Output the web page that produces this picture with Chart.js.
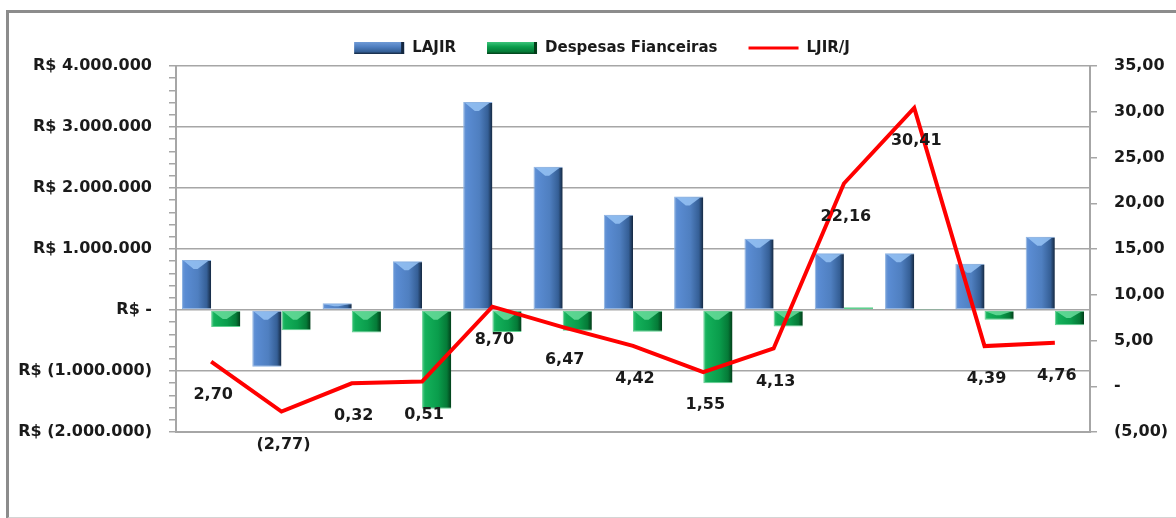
<!DOCTYPE html>
<html>
<head>
<meta charset="utf-8">
<script src="https://cdn.jsdelivr.net/npm/chart.js@4/dist/chart.umd.min.js"></script>
<style>
  body { margin: 0; background: #fff; }
  #frame {
    position: absolute; left: 6px; top: 10px; width: 1167px; height: 504px;
    border-left: 3px solid #8c8c8c; border-top: 3px solid #8c8c8c;
    border-right: 2px solid #d4d4d4; border-bottom: 2px solid #d4d4d4;
  }
  #chart { position: absolute; left: 0; top: 0; }
</style>
</head>
<body>
<div id="frame"></div>
<canvas id="chart" width="1176" height="518"></canvas>
<script>
// dados
var periodos = ['1', '2', '3', '4', '5', '6', '7', '8', '9', '10', '11', '12', '13'];
var lajir = [820000, -930000, 110000, 800000, 3410000, 2350000, 1560000, 1860000, 1170000, 930000, 930000, 760000, 1200000];
var despesas = [-280000, -330000, -370000, -1620000, -360000, -340000, -355000, -1200000, -270000, 45000, 5000, -160000, -250000];
var ljirj = [2.70, -2.77, 0.32, 0.51, 8.70, 6.47, 4.42, 1.55, 4.13, 22.16, 30.41, 4.39, 4.76];

var FONT = 'DejaVu Sans';
var GRID = '#a6a6a6';

function milhar(n) {
    return String(Math.round(Math.abs(n))).replace(/\B(?=(\d{3})+(?!\d))/g, '.');
}
function reais(v) {
    if (Math.abs(v) < 1) return 'R$ -';
    if (v < 0) return 'R$ (' + milhar(v) + ')';
    return 'R$ ' + milhar(v);
}
function decimal(v) {
    if (Math.abs(v) < 0.0001) return '-';
    var s = Math.abs(v).toFixed(2).replace('.', ',');
    return v < 0 ? '(' + s + ')' : s;
}

function gradiente(ctx, x0, x1, stops) {
    var g = ctx.createLinearGradient(x0, 0, x1, 0);
    stops.forEach(function (s) { g.addColorStop(s[0], s[1]); });
    return g;
}
var azul = [[0, '#6f9ad6'], [0.12, '#5a8cd3'], [0.55, '#4f7fc0'], [0.85, '#355f96'], [1, '#14273f']];
var verde = [[0, '#3cc47a'], [0.12, '#13b05a'], [0.55, '#0a9d4c'], [0.85, '#057a37'], [1, '#023d19']];
var brilho = ['rgba(150,195,245,0.85)', 'rgba(110,225,160,0.8)'];

// barras com efeito de relevo
var relevo = {
    id: 'relevo',
    beforeDatasetsDraw: function (chart) {
        var ctx = chart.ctx;
        [0, 1].forEach(function (di) {
            var meta = chart.getDatasetMeta(di + 1);
            meta.data.forEach(function (bar) {
                var x0 = bar.x - bar.width / 2, x1 = bar.x + bar.width / 2;
                bar.options.backgroundColor = gradiente(ctx, x0, x1, di === 0 ? azul : verde);
            });
        });
    },
    afterDatasetDraw: function (chart, args) {
        if (args.index === 0) return;
        var ctx = chart.ctx;
        ctx.save();
        ctx.fillStyle = brilho[args.index - 1];
        args.meta.data.forEach(function (bar) {
            var topo = Math.min(bar.y, bar.base);
            var h = Math.abs(bar.base - bar.y);
            if (h < 4) return;
            var d = Math.min(9, h / 2);
            var x0 = bar.x - bar.width / 2, x1 = bar.x + bar.width / 2;
            ctx.beginPath();
            ctx.moveTo(x0 + 2, topo + 1);
            ctx.lineTo(x1 - 3, topo + 1);
            ctx.lineTo(bar.x + 1, topo + d);
            ctx.lineTo(bar.x - 3, topo + d);
            ctx.closePath();
            ctx.fill();
        });
        ctx.restore();
    }
};

// rótulos da linha
var rotulos = {
    id: 'rotulos',
    afterDatasetsDraw: function (chart) {
        var ctx = chart.ctx;
        var meta = chart.getDatasetMeta(0);
        ctx.save();
        ctx.font = 'bold 16px ' + FONT;
        ctx.fillStyle = '#1a1a1a';
        ctx.textAlign = 'center';
        ctx.textBaseline = 'middle';
        meta.data.forEach(function (pt, i) {
            ctx.fillText(decimal(ljirj[i]), pt.x + 2, pt.y + 33);
        });
        ctx.restore();
    }
};

// legenda no topo
var legenda = {
    id: 'legenda',
    afterDraw: function (chart) {
        var ctx = chart.ctx;
        ctx.save();
        ctx.font = 'bold 15px ' + FONT;
        ctx.textBaseline = 'middle';
        var itens = [
            { txt: 'LAJIR', tipo: 'barra', cor: azul },
            { txt: 'Despesas Fianceiras', tipo: 'barra', cor: verde },
            { txt: 'LJIR/J', tipo: 'linha' }
        ];
        var caixa = 50, gap = 8, entre = 31, y = 48;
        var total = 0;
        itens.forEach(function (it, i) {
            it.w = ctx.measureText(it.txt).width;
            total += caixa + gap + it.w + (i ? entre : 0);
        });
        var x = 602 - total / 2;
        itens.forEach(function (it) {
            if (it.tipo === 'barra') {
                var g = ctx.createLinearGradient(0, y - 6, 0, y + 6);
                g.addColorStop(0, it.cor[0][1]);
                g.addColorStop(0.4, it.cor[2][1]);
                g.addColorStop(0.8, it.cor[3][1]);
                g.addColorStop(1, it.cor[4][1]);
                ctx.fillStyle = g;
                ctx.fillRect(x, y - 6, caixa, 12);
                ctx.fillStyle = it.cor[4][1];
                ctx.fillRect(x + caixa - 3, y - 6, 3, 12);
            } else {
                ctx.strokeStyle = '#ff0000';
                ctx.lineWidth = 3;
                ctx.beginPath();
                ctx.moveTo(x, y);
                ctx.lineTo(x + caixa, y);
                ctx.stroke();
            }
            ctx.fillStyle = '#1a1a1a';
            ctx.fillText(it.txt, x + caixa + gap, y);
            x += caixa + gap + it.w + entre;
        });
        ctx.restore();
    }
};

var ctx = document.getElementById('chart').getContext('2d');
var grafico = new Chart(ctx, {
    type: 'bar',
    data: {
        labels: periodos,
        datasets: [{
            type: 'line',
            label: 'LJIR/J',
            data: ljirj,
            yAxisID: 'y2',
            borderColor: '#ff0000',
            borderWidth: 4,
            pointRadius: 0,
            tension: 0,
            fill: false,
            order: 0
        }, {
            label: 'LAJIR',
            data: lajir,
            yAxisID: 'y',
            backgroundColor: function () { return '#4f81bd'; },
            borderColor: '#8db3e2',
            borderWidth: { left: 1, top: 1, right: 0, bottom: 1 },
            borderSkipped: false,
            order: 1
        }, {
            label: 'Despesas Fianceiras',
            data: despesas,
            yAxisID: 'y',
            backgroundColor: function () { return '#00a050'; },
            borderColor: '#5fd08f',
            borderWidth: { left: 1, top: 1, right: 0, bottom: 1 },
            borderSkipped: false,
            order: 1
        }]
    },
    options: {
        responsive: false,
        animation: false,
        layout: { padding: { top: 66, bottom: 86, left: 0, right: 0 } },
        plugins: {
            legend: { display: false },
            tooltip: { enabled: false }
        },
        datasets: {
            bar: { categoryPercentage: 0.83, barPercentage: 1.0 }
        },
        scales: {
            x: {
                grid: { display: false },
                ticks: { display: false },
                border: { display: true, color: GRID, width: 2 },
                afterFit: function (s) { s.height = 0; }
            },
            y: {
                position: 'left',
                min: -2000000,
                max: 4000000,
                ticks: {
                    stepSize: 200000,
                    autoSkip: false,
                    padding: 17,
                    color: '#1a1a1a',
                    font: { family: FONT, size: 16, weight: 'bold' },
                    callback: function (v) {
                        return Math.abs(v % 1000000) < 1 ? reais(v) : '';
                    }
                },
                grid: {
                    tickLength: 7,
                    lineWidth: 1.5,
                    tickColor: GRID,
                    color: function (c) {
                        return c.tick && Math.abs(c.tick.value % 1000000) < 1 ? GRID : 'rgba(0,0,0,0)';
                    }
                },
                border: { display: true, color: GRID, width: 2 },
                afterFit: function (s) { s.width = 176; }
            },
            y2: {
                position: 'right',
                min: -5,
                max: 35,
                ticks: {
                    stepSize: 5,
                    autoSkip: false,
                    padding: 17,
                    color: '#1a1a1a',
                    font: { family: FONT, size: 16, weight: 'bold' },
                    callback: function (v) { return decimal(v); }
                },
                grid: { drawOnChartArea: false, tickLength: 7, tickColor: GRID, lineWidth: 1.5 },
                border: { display: true, color: GRID, width: 2 },
                afterFit: function (s) { s.width = 86; }
            }
        }
    },
    plugins: [relevo, rotulos, legenda]
});
</script>
</body>
</html>
